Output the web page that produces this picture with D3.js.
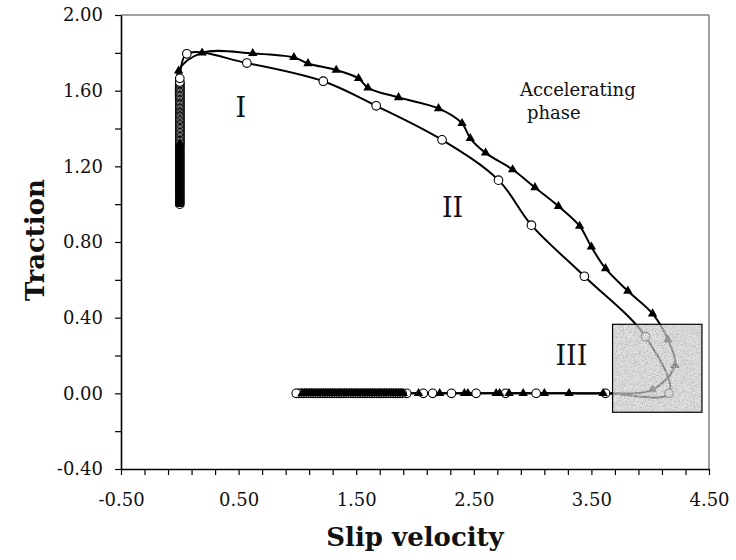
<!DOCTYPE html>
<html><head><meta charset="utf-8">
<script src="https://cdn.jsdelivr.net/npm/d3@7"></script>
<style>
html,body{margin:0;padding:0;background:#fff;}
svg{display:block;}
</style></head>
<body>
<svg id="chart" width="736" height="560"></svg>
<script>
// ---- data ----
// triangle series (filled triangles)
const triX = [0,0,0,0,0,0,0,0,0,0,0,
  0,0,0,0,0,0,0,0,0,0,0,
  0,0,0,0,0,0,0,0,0,0,0,
  -0.01,0.19,0.62,0.97,1.09,1.33,1.52,1.60,1.86,2.20,2.40,2.47,2.60,2.83,3.02,3.22,3.40,3.50,3.62,3.81,4.02,
  4.15,4.21,4.02,3.60,3.31,3.10,2.92,2.80,2.72,2.69,2.45,2.42,2.21,2.03,
  1.90,1.88,1.86,1.84,1.82,1.80,1.78,1.76,1.74,1.72,1.70,1.68,1.66,1.64,1.62,1.60,1.58,1.56,1.54,1.52,
  1.50,1.48,1.46,1.44,1.42,1.40,1.38,1.36,1.34,1.32,1.30,1.28,1.26,1.24,1.22,1.20,1.18,1.16,1.14,1.12,
  1.10,1.08,1.06,1.04];
const triY = [1.00,1.01,1.02,1.03,1.04,1.05,1.06,1.07,1.08,1.09,1.10,
  1.11,1.12,1.13,1.14,1.15,1.16,1.17,1.18,1.19,1.20,1.21,
  1.22,1.23,1.24,1.25,1.26,1.27,1.28,1.29,1.30,1.31,1.32,
  1.705,1.800,1.797,1.776,1.744,1.709,1.665,1.615,1.564,1.506,1.427,1.348,1.271,1.183,1.088,0.989,0.884,0.774,0.660,0.541,0.421,
  0.284,0.148,0.020,0.000,0,0,0,0,0,0,0,0,0,0,
  0,0,0,0,0,0,0,0,0,0,0,0,0,0,0,0,0,0,0,0,
  0,0,0,0,0,0,0,0,0,0,0,0,0,0,0,0,0,0,0,0,
  0,0,0,0];
// circle series (open circles)
const cirX = [0,0,0,0,0,0,0,0,0,0,
  0,0,0,0,0,0,0,0,0,0,
  0,0,0,0,0,0,0,0,0,0,
  0,0,0,0,0,0,0,0,0,0,
  0,0,0,0,0,0,0,0,0,0,
  0,0,0,0,0,0,0,0,0,0,
  0,0,0,0,0,0,0,0,0,0,
  0,0,0,0,0,0,0,0,0,0,
  0,
  0.06,0.57,1.22,1.67,2.23,2.71,2.99,3.44,3.96,4.16,3.62,3.03,2.77,2.52,2.31,2.15,2.07,1.93,
  1.89,1.87,1.85,1.83,1.81,1.79,1.77,1.75,1.73,1.71,1.69,1.67,1.65,1.63,1.61,1.59,1.57,1.55,1.53,1.51,
  1.49,1.47,1.45,1.43,1.41,1.39,1.37,1.35,1.33,1.31,1.29,1.27,1.25,1.23,1.21,1.19,1.17,1.15,1.13,1.11,
  1.09,1.07,1.05,1.03,1.01,0.99];
const cirY = [1.00,1.01,1.02,1.03,1.04,1.05,1.06,1.07,1.08,1.09,
  1.10,1.11,1.12,1.13,1.14,1.15,1.16,1.17,1.18,1.19,
  1.20,1.21,1.22,1.23,1.24,1.25,1.26,1.27,1.28,1.29,
  1.30,1.31,1.317,1.324,1.331,1.338,1.345,1.352,1.359,1.366,
  1.373,1.380,1.387,1.394,1.401,1.408,1.415,1.422,1.429,1.436,
  1.443,1.450,1.457,1.464,1.471,1.478,1.485,1.492,1.499,1.506,
  1.513,1.520,1.527,1.534,1.541,1.548,1.555,1.562,1.569,1.576,
  1.583,1.590,1.597,1.604,1.611,1.618,1.625,1.632,1.639,1.646,
  1.665,
  1.795,1.746,1.650,1.520,1.340,1.127,0.889,0.619,0.300,0.000,0,0,0,0,0,0,0,0,
  0,0,0,0,0,0,0,0,0,0,0,0,0,0,0,0,0,0,0,0,
  0,0,0,0,0,0,0,0,0,0,0,0,0,0,0,0,0,0,0,0,
  0,0,0,0,0,0];
// shaded region (phase III box)
const boxX = [3.68, 4.44];
const boxY = [-0.10, 0.365];
// annotations
const labelText = ["I", "II", "III"];
const labelX = [0.52, 2.32, 3.33];
const labelY = [1.46, 0.93, 0.15];
const noteLines = ["Accelerating", "phase"];
// axes
const xDomain = [-0.5, 4.5];
const yDomain = [-0.4, 2.0];
const xMajor = [-0.5, 0.5, 1.5, 2.5, 3.5, 4.5];
const xTickLabels = ["-0.50", "0.50", "1.50", "2.50", "3.50", "4.50"];
const yMajor = [-0.4, 0.0, 0.4, 0.8, 1.2, 1.6, 2.0];
const yTickLabels = ["-0.40", "0.00", "0.40", "0.80", "1.20", "1.60", "2.00"];
const xTitle = "Slip velocity";
const yTitle = "Traction";

// ---- layout ----
const svg = d3.select("#chart");
const L = 121, R = 709, T = 15, B = 469;
const x = d3.scaleLinear().domain(xDomain).range([L, R]);
const y = d3.scaleLinear().domain(yDomain).range([B, T]);
const serif = "'DejaVu Serif', serif";

// defs: noise texture
const defs = svg.append("defs");
const f = defs.append("filter").attr("id", "noise")
  .attr("x", 0).attr("y", 0).attr("width", 1).attr("height", 1);
f.append("feTurbulence").attr("type", "fractalNoise").attr("baseFrequency", 1.1)
  .attr("numOctaves", 2).attr("seed", 7).attr("result", "t");
f.append("feColorMatrix").attr("in", "t").attr("type", "matrix")
  .attr("values", "0 0 0 0 0.5  0 0 0 0 0.5  0 0 0 0 0.5  3.0 0 0 0 -1.2").attr("result", "n");
f.append("feComposite").attr("in", "n").attr("in2", "SourceGraphic").attr("operator", "in");
defs.append("clipPath").attr("id", "plotclip").append("rect")
  .attr("x", L).attr("y", T).attr("width", R - L).attr("height", B - T);

// frame: top & right gray
svg.append("line").attr("x1", L).attr("x2", R).attr("y1", T).attr("y2", T)
  .attr("stroke", "#808080").attr("stroke-width", 1.5);
svg.append("line").attr("x1", R).attr("x2", R).attr("y1", T).attr("y2", B)
  .attr("stroke", "#808080").attr("stroke-width", 1.5);

// axes
const yMinor = d3.range(-0.4, 2.0001, 0.2).map(v => +v.toFixed(2));
const xMinor = d3.range(-0.5, 4.5001, 0.2).map(v => +v.toFixed(2));
const yLab = v => { const i = yMajor.findIndex(m => Math.abs(m - v) < 1e-6); return i >= 0 ? yTickLabels[i] : ""; };
const xLab = v => { const i = xMajor.findIndex(m => Math.abs(m - v) < 1e-6); return i >= 0 ? xTickLabels[i] : ""; };

const gy = svg.append("g").attr("transform", `translate(${L},0)`)
  .call(d3.axisLeft(y).tickValues(yMinor).tickFormat(yLab).tickSize(6).tickPadding(12).tickSizeOuter(0));
const gx = svg.append("g").attr("transform", `translate(0,${B})`)
  .call(d3.axisBottom(x).tickValues(xMinor).tickFormat(xLab).tickSize(6).tickPadding(18).tickSizeOuter(0));
[gy, gx].forEach(g => {
  g.selectAll("path.domain").attr("stroke", "#000").attr("stroke-width", 1.6);
  g.selectAll(".tick line").attr("stroke", "#000").attr("stroke-width", 1.2);
  g.selectAll("text").attr("font-family", serif).attr("font-size", 18).attr("fill", "#111");
});

// titles
svg.append("text").attr("x", (L + R) / 2).attr("y", 546).attr("text-anchor", "middle")
  .attr("font-family", serif).attr("font-weight", "bold").attr("font-size", 26).attr("fill", "#111").text(xTitle);
svg.append("text").attr("transform", `translate(44,240) rotate(-90)`).attr("text-anchor", "middle")
  .attr("font-family", serif).attr("font-weight", "bold").attr("font-size", 26).attr("fill", "#111").text(yTitle);

// series
const plot = svg.append("g").attr("clip-path", "url(#plotclip)");
const line = d3.line().x(d => x(d[0])).y(d => y(d[1])).curve(d3.curveCatmullRom.alpha(0.5));
const triData = triX.map((v, i) => [v, triY[i]]);
const cirData = cirX.map((v, i) => [v, cirY[i]]);

plot.append("path").datum(cirData).attr("d", line).attr("fill", "none").attr("stroke", "#000").attr("stroke-width", 2);
plot.append("path").datum(triData).attr("d", line).attr("fill", "none").attr("stroke", "#000").attr("stroke-width", 2);
plot.selectAll("circle.cir").data(cirData).join("circle").attr("class", "cir")
  .attr("cx", d => x(d[0])).attr("cy", d => y(d[1])).attr("r", 4.3)
  .attr("fill", "#fff").attr("stroke", "#000").attr("stroke-width", 1.1);
plot.selectAll("path.tri").data(triData).join("path").attr("class", "tri")
  .attr("transform", d => `translate(${x(d[0])},${y(d[1])})`)
  .attr("d", d3.symbol().type(d3.symbolTriangle).size(38)).attr("fill", "#000");

// shaded box overlay
const bx = x(boxX[0]), bw = x(boxX[1]) - x(boxX[0]);
const by = y(boxY[1]), bh = y(boxY[0]) - y(boxY[1]);
svg.append("rect").attr("x", bx).attr("y", by).attr("width", bw).attr("height", bh)
  .attr("fill", "#d0d0d0").attr("fill-opacity", 0.6);
svg.append("rect").attr("x", bx).attr("y", by).attr("width", bw).attr("height", bh)
  .attr("fill", "#fff").attr("filter", "url(#noise)");
svg.append("rect").attr("x", bx).attr("y", by).attr("width", bw).attr("height", bh)
  .attr("fill", "none").attr("stroke", "#000").attr("stroke-width", 1.2);

// annotations
labelText.forEach((t, i) => {
  svg.append("text").attr("x", x(labelX[i])).attr("y", y(labelY[i])).attr("text-anchor", "middle")
    .attr("font-family", serif).attr("font-size", 27).attr("fill", "#111").text(t);
});
svg.append("text").attr("x", 520).attr("y", 96).attr("font-family", serif).attr("font-size", 18).attr("fill", "#111").text(noteLines[0]);
svg.append("text").attr("x", 527).attr("y", 119).attr("font-family", serif).attr("font-size", 18).attr("fill", "#111").text(noteLines[1]);
</script>
</body></html>
